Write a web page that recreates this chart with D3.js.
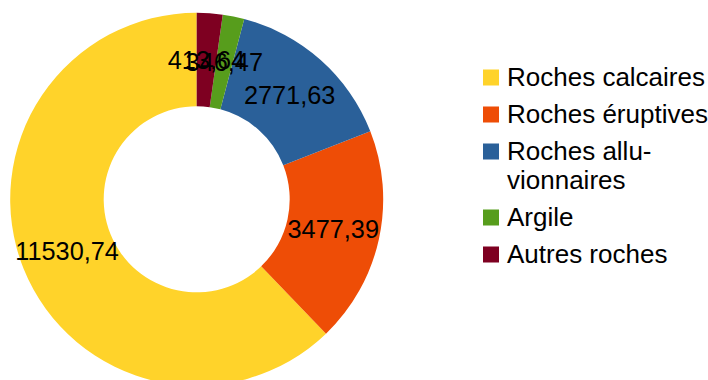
<!DOCTYPE html>
<html>
<head>
<meta charset="utf-8">
<script src="https://cdn.jsdelivr.net/npm/d3@7"></script>
<style>
  html, body { margin: 0; padding: 0; background: #fff; }
  svg { display: block; }
  text { font-family: "Liberation Sans", Arial, sans-serif; fill: #000; }
</style>
</head>
<body>
<svg id="chart" width="708" height="380"></svg>
<script>
// Surface by rock type
const categories = ["Roches calcaires", "Roches éruptives", "Roches alluvionnaires", "Argile", "Autres roches"];
const legendLines = [["Roches calcaires"], ["Roches éruptives"], ["Roches allu-", "vionnaires"], ["Argile"], ["Autres roches"]];
const values = [11530.74, 3477.39, 2771.63, 346.47, 413.64];
const colors = ["#ffd32a", "#ee4d06", "#2a6099", "#579d1c", "#7e0021"];

const svg = d3.select("#chart");
const cx = 196.7, cy = 199.3, outerR = 186.5, innerR = 93;

const fmt = v => d3.format(".2f")(v).replace(".", ",");

// Slices run counter-clockwise from 12 o'clock
const pie = d3.pie().sort(null).startAngle(0).endAngle(-2 * Math.PI);
const arcs = pie(values).map((d, i) => Object.assign(d, { i }));

const arc = d3.arc().innerRadius(innerR).outerRadius(outerR);
const labelArc = d3.arc().innerRadius((innerR + outerR) / 2).outerRadius((innerR + outerR) / 2);

const g = svg.append("g").attr("transform", `translate(${cx},${cy})`);

g.selectAll("path.slice")
  .data(arcs)
  .join("path")
  .attr("class", "slice")
  .attr("d", arc)
  .attr("fill", d => colors[d.i]);

g.selectAll("text.value")
  .data(arcs)
  .join("text")
  .attr("class", "value")
  .attr("transform", d => `translate(${labelArc.centroid(d)})`)
  .attr("text-anchor", "middle")
  .attr("dy", "0.35em")
  .attr("font-size", 25.3)
  .text(d => fmt(d.data));

// Legend
const legend = svg.append("g").attr("transform", "translate(483,0)");
const baselines = [];
let y = 86;
legendLines.forEach((lines, i) => {
  baselines.push(y);
  y += 37 + (lines.length - 1) * 29;
});

const items = legend.selectAll("g.item")
  .data(categories)
  .join("g")
  .attr("class", "item")
  .attr("transform", (d, i) => `translate(0,${baselines[i]})`);

items.append("rect")
  .attr("x", 0)
  .attr("y", -16.5)
  .attr("width", 16)
  .attr("height", 16)
  .attr("fill", (d, i) => colors[i]);

items.append("text")
  .attr("x", 24)
  .attr("font-size", 26)
  .selectAll("tspan")
  .data((d, i) => legendLines[i])
  .join("tspan")
  .attr("x", 24)
  .attr("dy", (d, j) => j === 0 ? 0 : 29)
  .text(d => d);
</script>
</body>
</html>
